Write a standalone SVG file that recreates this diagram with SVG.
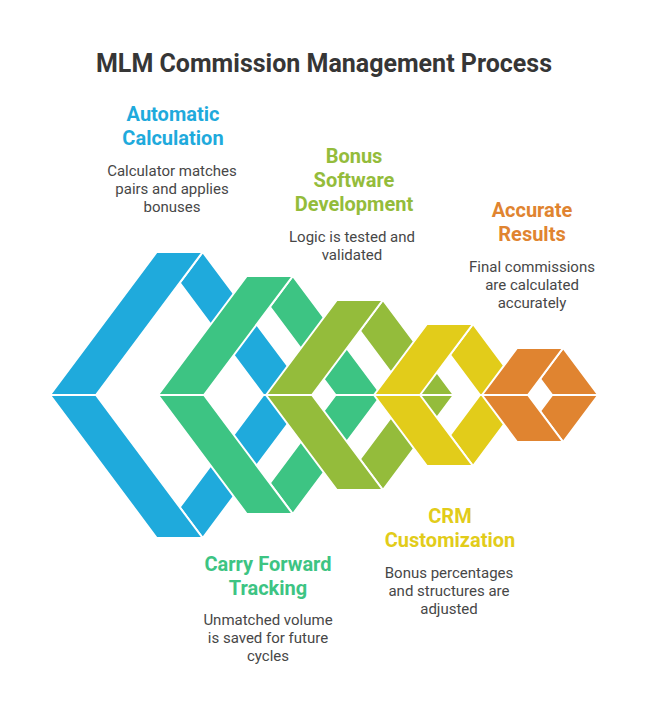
<svg xmlns="http://www.w3.org/2000/svg" width="648" height="714" viewBox="0 0 648 714">
<style>
  .arm { stroke: #ffffff; stroke-width: 2; stroke-linejoin: miter; }
  .title { font-family: Roboto, "Liberation Sans", sans-serif; font-weight: 700; font-size: 25px; fill: #363636; text-anchor: middle; }
  .head { font-family: Roboto, "Liberation Sans", sans-serif; font-weight: 700; font-size: 20px; text-anchor: middle; }
  .desc { font-family: Roboto, "Liberation Sans", sans-serif; font-size: 15px; fill: #474747; text-anchor: middle; }
  .c0 { fill: #1FAADC; } .c1 { fill: #3DC483; } .c2 { fill: #94BC3B; } .c3 { fill: #E2CC1A; } .c4 { fill: #E08430; }
</style>
<rect width="648" height="714" fill="#ffffff"/>
<text class="title" x="324" y="72">MLM Commission Management Process</text>

<g id="node-automatic-calculation">
  <g class="c0">
    <polygon class="arm" points="202.7,252 309.4,395 263.4,395 179.7,282.8"/>
    <polygon class="arm" points="202.7,538 309.4,395 263.4,395 179.7,507.2"/>
    <polygon class="arm" points="50,395 156.7,252 202.7,252 96,395"/>
    <polygon class="arm" points="50,395 96,395 202.7,538 156.7,538"/>
  </g>
  <text class="head c0" x="173" y="121">Automatic</text>
  <text class="head c0" x="173" y="145">Calculation</text>
  <text class="desc" x="172" y="176">Calculator matches</text>
  <text class="desc" x="172" y="194">pairs and applies</text>
  <text class="desc" x="172" y="212">bonuses</text>
</g>

<g id="node-carry-forward-tracking">
  <g class="c1">
    <polygon class="arm" points="292.8,276 381.6,395 335.6,395 269.8,306.8"/>
    <polygon class="arm" points="292.8,514 381.6,395 335.6,395 269.8,483.2"/>
    <polygon class="arm" points="158,395 246.8,276 292.8,276 204,395"/>
    <polygon class="arm" points="158,395 204,395 292.8,514 246.8,514"/>
  </g>
  <text class="head c1" x="268" y="571">Carry Forward</text>
  <text class="head c1" x="268" y="595">Tracking</text>
  <text class="desc" x="268" y="625">Unmatched volume</text>
  <text class="desc" x="268" y="643">is saved for future</text>
  <text class="desc" x="268" y="661">cycles</text>
</g>

<g id="node-bonus-software-development">
  <g class="c2">
    <polygon class="arm" points="382.9,300 453.8,395 407.8,395 359.9,330.8"/>
    <polygon class="arm" points="382.9,490 453.8,395 407.8,395 359.9,459.2"/>
    <polygon class="arm" points="266,395 336.9,300 382.9,300 312,395"/>
    <polygon class="arm" points="266,395 312,395 382.9,490 336.9,490"/>
  </g>
  <text class="head c2" x="354" y="163">Bonus</text>
  <text class="head c2" x="354" y="187">Software</text>
  <text class="head c2" x="354" y="211">Development</text>
  <text class="desc" x="352" y="242">Logic is tested and</text>
  <text class="desc" x="352" y="260">validated</text>
</g>

<g id="node-crm-customization">
  <g class="c3">
    <polygon class="arm" points="473,324 526,395 480,395 450,354.8"/>
    <polygon class="arm" points="473,466 526,395 480,395 450,435.2"/>
    <polygon class="arm" points="374,395 427,324 473,324 420,395"/>
    <polygon class="arm" points="374,395 420,395 473,466 427,466"/>
  </g>
  <text class="head c3" x="450" y="523">CRM</text>
  <text class="head c3" x="450" y="547">Customization</text>
  <text class="desc" x="449" y="578">Bonus percentages</text>
  <text class="desc" x="449" y="596">and structures are</text>
  <text class="desc" x="449" y="614">adjusted</text>
</g>

<g id="node-accurate-results">
  <g class="c4">
    <polygon class="arm" points="563.1,348 598.2,395 552.2,395 540.1,378.8"/>
    <polygon class="arm" points="563.1,442 598.2,395 552.2,395 540.1,411.2"/>
    <polygon class="arm" points="482,395 517.1,348 563.1,348 528,395"/>
    <polygon class="arm" points="482,395 528,395 563.1,442 517.1,442"/>
  </g>
  <text class="head c4" x="532" y="217">Accurate</text>
  <text class="head c4" x="532" y="241">Results</text>
  <text class="desc" x="532" y="272">Final commissions</text>
  <text class="desc" x="532" y="290">are calculated</text>
  <text class="desc" x="532" y="308">accurately</text>
</g>

<g id="connectors"></g>
</svg>
